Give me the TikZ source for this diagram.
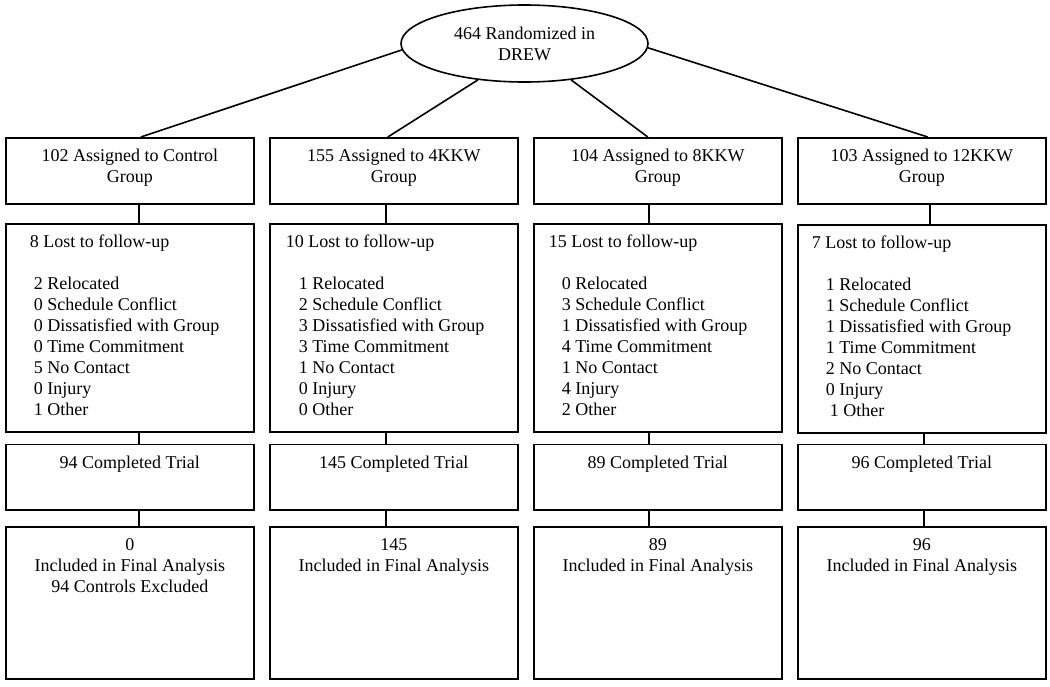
\documentclass[tikz,border=0pt]{standalone}
\usepackage{fontspec}
\setmainfont{Liberation Serif}
\usetikzlibrary{shapes.geometric}
\newcommand{\cbx}[2]{\parbox[c][#1][t]{248pt}{\centering\rule{0pt}{24pt}#2}}
\newcommand{\lbx}[2]{\parbox[c][#1][t]{248pt}{\raggedright\rule{0pt}{24pt}#2}}
\newcommand{\ind}[1]{\hspace*{#1pt}}
\tikzset{
  flowbox/.style={draw, line width=1.6pt, inner sep=0pt, anchor=north west},
  link/.style={line width=1.6pt},
}
\begin{document}
\begin{tikzpicture}[x=1pt,y=-1pt,font=\fontsize{18}{21}\selectfont]
\useasboundingbox (0,0) rectangle (1050,686);
\fill[white] (0,0) rectangle (1050,686);
% top ellipse
\node[draw, ellipse, line width=1.6pt, inner sep=0pt, minimum width=247pt, minimum height=77pt, align=center] (e) at (524.5,43.5) {464 Randomized in\\DREW};
% row 1
\node[flowbox] (a1) at (5,137) {\cbx{66pt}{102 Assigned to Control\\Group}};
\node[flowbox] (a2) at (269,137) {\cbx{66pt}{155 Assigned to 4KKW\\Group}};
\node[flowbox] (a3) at (533,137) {\cbx{66pt}{104 Assigned to 8KKW\\Group}};
\node[flowbox] (a4) at (797,137) {\cbx{66pt}{103 Assigned to 12KKW\\Group}};
% row 2
\node[flowbox] (b1) at (5,223) {\lbx{208pt}{\ind{24}8 Lost to follow-up\\[21pt]
\ind{28}2 Relocated\\ \ind{28}0 Schedule Conflict\\ \ind{28}0 Dissatisfied with Group\\ \ind{28}0 Time Commitment\\ \ind{28}5 No Contact\\ \ind{28}0 Injury\\ \ind{28}1 Other}};
\node[flowbox] (b2) at (269,223) {\lbx{208pt}{\ind{16}10 Lost to follow-up\\[21pt]
\ind{29}1 Relocated\\ \ind{29}2 Schedule Conflict\\ \ind{29}3 Dissatisfied with Group\\ \ind{29}3 Time Commitment\\ \ind{29}1 No Contact\\ \ind{29}0 Injury\\ \ind{29}0 Other}};
\node[flowbox] (b3) at (533,223) {\lbx{208pt}{\ind{15}15 Lost to follow-up\\[21pt]
\ind{28}0 Relocated\\ \ind{28}3 Schedule Conflict\\ \ind{28}1 Dissatisfied with Group\\ \ind{28}4 Time Commitment\\ \ind{28}1 No Contact\\ \ind{28}4 Injury\\ \ind{28}2 Other}};
\node[flowbox] (b4) at (797,224) {\lbx{208pt}{\ind{14}7 Lost to follow-up\\[21pt]
\ind{28}1 Relocated\\ \ind{28}1 Schedule Conflict\\ \ind{28}1 Dissatisfied with Group\\ \ind{28}1 Time Commitment\\ \ind{28}2 No Contact\\ \ind{28}0 Injury\\ \ind{32}1 Other}};
% row 3
\node[flowbox] (c1) at (5,443.5) {\cbx{65.5pt}{94 Completed Trial}};
\node[flowbox] (c2) at (269,443.5) {\cbx{65.5pt}{145 Completed Trial}};
\node[flowbox] (c3) at (533,443.5) {\cbx{65.5pt}{89 Completed Trial}};
\node[flowbox] (c4) at (797,443.5) {\cbx{65.5pt}{96 Completed Trial}};
% row 4
\node[flowbox] (d1) at (5,526) {\cbx{152pt}{0\\Included in Final Analysis\\94 Controls Excluded}};
\node[flowbox] (d2) at (269,526) {\cbx{152pt}{145\\Included in Final Analysis}};
\node[flowbox] (d3) at (533,526) {\cbx{152pt}{89\\Included in Final Analysis}};
\node[flowbox] (d4) at (797,526) {\cbx{152pt}{96\\Included in Final Analysis}};
% connectors from ellipse
\draw[link] (e.183) -- ([xshift=11pt]a1.north);
\draw[link] (e.218) -- ([xshift=-6pt]a2.north);
\draw[link] (e.322) -- ([xshift=-10pt]a3.north);
\draw[link] (e.358) -- ([xshift=6pt]a4.north);
% vertical connectors
\draw[link] ([xshift=9pt]a1.south) -- ([xshift=9pt]b1.north);
\draw[link] ([xshift=9pt]b1.south) -- ([xshift=9pt]c1.north);
\draw[link] ([xshift=9pt]c1.south) -- ([xshift=9pt]d1.north);
\draw[link] ([xshift=-8pt]a2.south) -- ([xshift=-8pt]b2.north);
\draw[link] ([xshift=-8pt]b2.south) -- ([xshift=-8pt]c2.north);
\draw[link] ([xshift=-8pt]c2.south) -- ([xshift=-8pt]d2.north);
\draw[link] ([xshift=-9pt]a3.south) -- ([xshift=-9pt]b3.north);
\draw[link] ([xshift=-9pt]b3.south) -- ([xshift=-9pt]c3.north);
\draw[link] ([xshift=-9pt]c3.south) -- ([xshift=-9pt]d3.north);
\draw[link] ([xshift=8pt]a4.south) -- ([xshift=8pt]b4.north);
\draw[link] ([xshift=2pt]b4.south) -- ([xshift=2pt]c4.north);
\draw[link] ([xshift=2pt]c4.south) -- ([xshift=2pt]d4.north);
\end{tikzpicture}
\end{document}
